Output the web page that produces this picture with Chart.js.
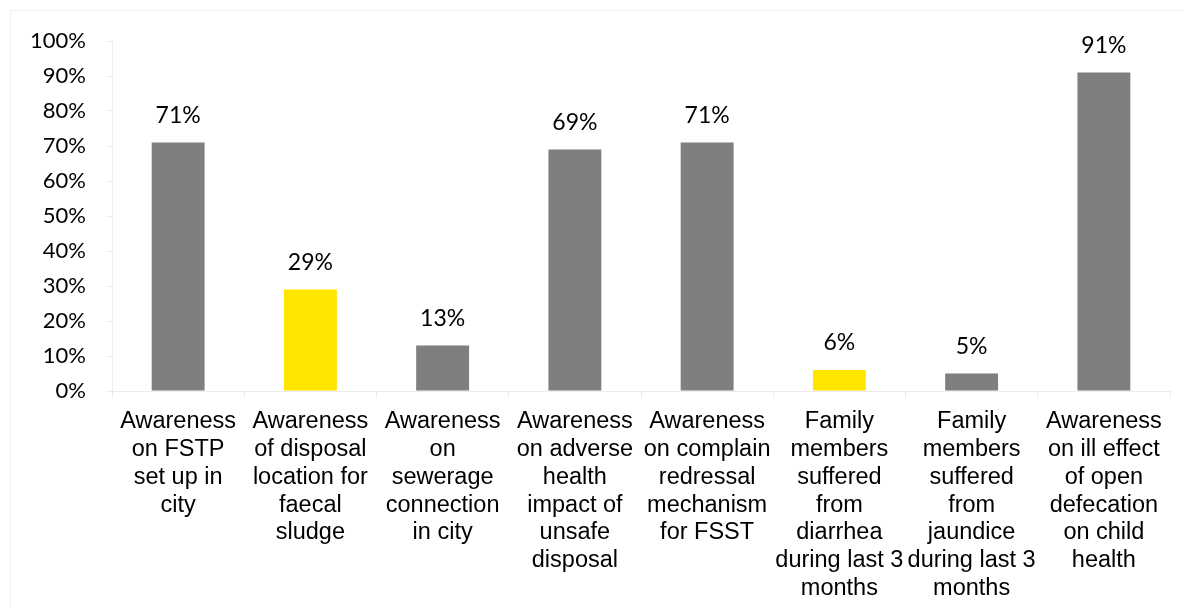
<!DOCTYPE html>
<html>
<head>
<meta charset="utf-8">
<style>
  html, body { margin: 0; padding: 0; background: #ffffff; }
  #wrap { position: relative; width: 1184px; height: 607px; overflow: hidden; }
  #frame { position: absolute; left: 10px; top: 10px; width: 1200px; height: 620px;
           border-left: 1px solid #f0f0f0; border-top: 1px solid #f0f0f0; box-sizing: border-box; }
  canvas { position: absolute; left: 0; top: 0; }
</style>
<script src="https://cdn.jsdelivr.net/npm/chart.js@4"></script>
</head>
<body>
<div id="wrap">
  <div id="frame"></div>
  <canvas id="chart" width="1184" height="607"></canvas>
</div>
<script>
// Survey indicators (one label line per array entry)
const categories = [
  ["Awareness", "on FSTP", "set up in", "city"],
  ["Awareness", "of disposal", "location for", "faecal", "sludge"],
  ["Awareness", "on", "sewerage", "connection", "in city"],
  ["Awareness", "on adverse", "health", "impact of", "unsafe", "disposal"],
  ["Awareness", "on complain", "redressal", "mechanism", "for FSST"],
  ["Family", "members", "suffered", "from", "diarrhea", "during last 3", "months"],
  ["Family", "members", "suffered", "from", "jaundice", "during last 3", "months"],
  ["Awareness", "on ill effect", "of open", "defecation", "on child", "health"]
];
// Share of respondents, in percent
const values = [71, 29, 13, 69, 71, 6, 5, 91];
// Highlighted indicators are drawn in yellow
const highlighted = [false, true, false, false, false, true, false, false];
const yTicks = [0, 10, 20, 30, 40, 50, 60, 70, 80, 90, 100];

const GREY = '#7f7f7f';
const YELLOW = '#ffe600';
const AXIS = '#ececec';

// Writes the percentage above each bar
const valueLabels = {
  id: 'valueLabels',
  afterDatasetsDraw(chart) {
    const ctx = chart.ctx;
    const meta = chart.getDatasetMeta(0);
    ctx.save();
    ctx.font = '23px Lato';
    ctx.fillStyle = '#000000';
    ctx.textAlign = 'center';
    ctx.textBaseline = 'middle';
    meta.data.forEach((bar, i) => {
      ctx.fillText(values[i] + '%', bar.x, bar.y - 27);
    });
    ctx.restore();
  }
};

new Chart(document.getElementById('chart'), {
  type: 'bar',
  data: {
    labels: categories,
    datasets: [{
      data: values,
      backgroundColor: highlighted.map(h => h ? YELLOW : GREY),
      borderWidth: 0,
      barPercentage: 0.4,
      categoryPercentage: 1.0
    }]
  },
  options: {
    responsive: false,
    animation: false,
    layout: { padding: { top: 41, right: 14, bottom: 0, left: 0 } },
    plugins: {
      legend: { display: false },
      tooltip: { enabled: false }
    },
    scales: {
      x: {
        afterFit(s) { s.height = 216; },
        grid: { display: true, drawOnChartArea: false, drawTicks: true, tickLength: 7, color: AXIS, offset: true },
        border: { display: true, color: AXIS },
        ticks: {
          color: '#000000',
          font: { family: 'Liberation Sans', size: 23.5, lineHeight: 1.18 },
          maxRotation: 0,
          minRotation: 0,
          autoSkip: false,
          padding: 10
        }
      },
      y: {
        min: 0,
        max: 100,
        afterFit(s) { s.width = 112; },
        afterBuildTicks(s) { s.ticks = yTicks.map(v => ({ value: v })); },
        grid: { display: true, drawOnChartArea: false, drawTicks: true, tickLength: 6, color: AXIS },
        border: { display: true, color: AXIS },
        ticks: {
          color: '#000000',
          font: { family: 'Lato', size: 22 },
          padding: 20,
          callback: v => v + '%'
        }
      }
    }
  },
  plugins: [valueLabels]
});
</script>
</body>
</html>
